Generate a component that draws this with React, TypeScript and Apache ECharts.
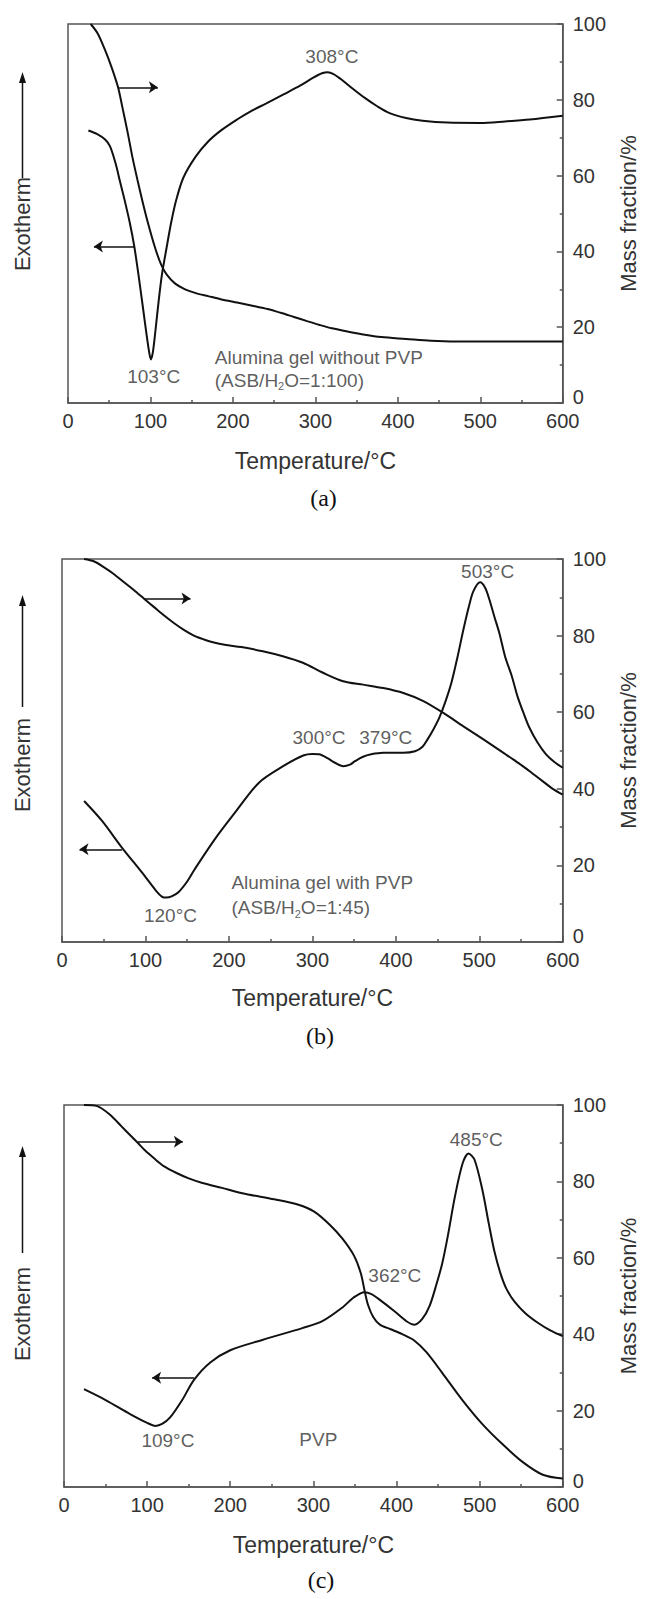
import React, { useEffect, useRef } from "react";
import * as echarts from "echarts";

const FONT = '"Liberation Sans", Arial, sans-serif';
const SERIF = '"Liberation Serif", "Times New Roman", serif';
const INK = "#111";
const AXIS = "#555";
const TEXT = "#333";

// axes
const xMin = 0, xMax = 600, xStep = 100;
const yMin = 0, yMax = 100, yStep = 20;
const xAxisTitle = "Temperature/°C";
const yAxisTitle = "Mass fraction/%";
const leftTitle = "Exotherm";
const panelTags = ["(a)", "(b)", "(c)"];

// ---------- Panel (a): alumina gel without PVP ----------
const dscA: [number, number][] = [
  [24.7, 71.9], [35, 71], [45, 69.5], [51, 67.7], [58, 63], [63, 58.5], [68.6, 53.6],
  [75, 47.5], [80.4, 41.3], [86, 33], [91, 25], [95, 18.5], [98, 14], [100.5, 11.5],
  [103, 13.5], [106, 19], [110, 27], [114, 34], [119.5, 40.9], [125, 47.5], [131.3, 53.6],
  [140, 59.5], [154.8, 65], [170, 69], [186, 72], [205, 74.8], [221, 76.9], [240, 79],
  [262, 81.5], [282, 83.8], [298, 85.9], [308, 87], [315, 87.3], [322, 86.8], [332, 85.3],
  [345, 83], [360, 80.5], [375, 78.3], [390, 76.5], [410, 75.2], [430, 74.5], [460, 74],
  [500, 73.9], [530, 74.3], [560, 74.8], [600, 75.8],
];
const tgA: [number, number][] = [
  [27.5, 100], [36, 97.5], [45, 93.1], [53, 88.5], [60.7, 83.3], [66, 78], [72.5, 71.2],
  [78, 65], [84.2, 58.9], [90, 53.5], [96, 48.3], [105.7, 40.9], [113, 36.5], [120, 33.8],
  [130, 31.5], [142, 30], [155, 29], [170, 28.2], [185, 27.4], [205, 26.5], [225, 25.6],
  [242, 24.8], [258, 23.8], [274, 22.7], [290, 21.6], [305, 20.6], [320, 19.7], [340, 18.8],
  [360, 18], [380, 17.4], [410, 16.9], [440, 16.4], [470, 16.2], [530, 16.2], [600, 16.2],
];
const notesA = [
  { t: "308°C", x: 320, y: 91.4, left: false },
  { t: "103°C", x: 104, y: 7, left: false },
  { t: "Alumina gel without PVP", x: 178, y: 11.9, left: true },
  { t: "(ASB/H{s|2}O=1:100)", x: 178, y: 6, left: true },
];
const arrowsA: [number, number][][] = [
  [[60.7, 83.3], [109, 83.3]],
  [[80.4, 41.3], [31.4, 41.3]],
];

// ---------- Panel (b): alumina gel with PVP ----------
const dscB: [number, number][] = [
  [26.5, 36.8], [48, 31.6], [72, 24.6], [96, 18.1], [113, 13.3], [120, 11.8], [125, 11.6],
  [132, 12], [139.5, 13], [150, 15.8], [159, 19], [183, 26.8], [207, 33.7], [236, 41.6],
  [265, 45.9], [289, 48.7], [300, 49.1], [308, 49], [318, 48], [327, 46.8], [337, 45.9],
  [345, 46.3], [351, 47.2], [360, 48.3], [370.5, 49], [385, 49.4], [409, 49.4], [423, 49.8],
  [432, 51], [438, 52.9], [445, 55.5], [452, 58.5], [459, 62.5], [466.6, 67.7], [474, 74.5],
  [481, 81.6], [488, 88], [493, 91.6], [501, 93.9], [507, 92.5], [512, 89.5], [518, 85],
  [524, 80.7], [531, 74.5], [539, 69.4], [546, 64], [553, 59.8], [560, 56], [570, 52],
  [580, 49], [590, 47], [600, 45.5],
];
const tgB: [number, number][] = [
  [26.5, 100], [38, 99.4], [50, 97.9], [62, 96.1], [74, 94], [86, 91.9], [98, 89.7],
  [110, 87.5], [122, 85.3], [134, 83.3], [146, 81.5], [158, 80], [170, 79], [182, 78.2],
  [195, 77.6], [215, 77], [240.6, 75.9], [264.6, 74.6], [288.7, 72.9], [312.7, 70.3],
  [336.8, 68.1], [360.9, 67.2], [385, 66.3], [409, 65], [433, 62.9], [457, 59.8], [481, 56.3],
  [505, 52.9], [529, 49.4], [541, 47.6], [553, 45.8], [565, 43.8], [577, 41.8], [588, 40],
  [600, 38.5],
];
const notesB = [
  { t: "503°C", x: 510, y: 96.8, left: false },
  { t: "300°C", x: 308, y: 53.3, left: false },
  { t: "379°C", x: 388, y: 53.3, left: false },
  { t: "120°C", x: 130, y: 6.8, left: false },
  { t: "Alumina gel with PVP", x: 203, y: 15.5, left: true },
  { t: "(ASB/H{s|2}O=1:45)", x: 203, y: 9, left: true },
];
const arrowsB: [number, number][][] = [
  [[98.6, 89.7], [154, 89.7]],
  [[72, 24.2], [21, 24.2]],
];

// ---------- Panel (c): PVP ----------
const dscC: [number, number][] = [
  [24, 25.6], [50.6, 22.7], [79.5, 19.1], [100, 16.8], [110, 16], [118, 16.5], [127.7, 18.2],
  [142, 22.7], [156.6, 28.1], [176, 32.6], [200, 35.8], [238.6, 38.5], [286.7, 41.6],
  [310.8, 43.4], [335, 47], [349, 49.7], [361.4, 51], [370, 50.5], [378, 49.3], [397.6, 46],
  [412, 43.4], [421.7, 42.5], [431, 44], [440, 47.5], [448, 53], [455, 58.5], [462, 66],
  [470, 75.7], [479.5, 84.7], [486.7, 87.3], [494, 85.6], [503.6, 77.5], [511, 69],
  [518, 61.5], [525, 56], [532, 52], [542, 48.5], [555, 45.5], [570, 43], [585, 41],
  [600, 39.5],
];
const tgC: [number, number][] = [
  [24, 100], [40, 99.7], [55, 97.5], [69.2, 94.4], [80, 92], [88.7, 90.1], [98, 88],
  [108, 86.1], [120, 84], [135.4, 82.2], [150, 80.8], [166.6, 79.6], [190, 78.3],
  [214.5, 76.9], [253, 75.3], [282, 73.9], [301, 72.1], [320, 68.6], [335, 65], [349, 60.5],
  [357, 56], [362, 51], [366, 47.5], [372, 44.5], [380, 42.5], [393, 41.3], [407, 40],
  [421.7, 38.3], [436, 35.3], [455, 29.9], [479.5, 22.7], [503.6, 16.4], [528, 11.1],
  [552, 6.5], [576, 3.2], [600, 2.2],
];
const notesC = [
  { t: "485°C", x: 496, y: 90.9, left: false },
  { t: "362°C", x: 398, y: 55.3, left: false },
  { t: "109°C", x: 125, y: 12.1, left: false },
  { t: "PVP", x: 306, y: 12.4, left: false },
];
const arrowsC: [number, number][][] = [
  [[89, 90.4], [143, 90.4]],
  [[156.6, 28.6], [106, 28.6]],
];

// layout (pixels)
const panels = [
  { grid: { left: 68, top: 24, width: 511, height: 379 }, dsc: dscA, tg: tgA, notes: notesA, arrows: arrowsA,
    exo: { x: 22.5, top: 72, shaftEnd: 178, textY: 224 }, tagY: 498, nameGap: 46 },
  { grid: { left: 62, top: 559, width: 516, height: 383 }, dsc: dscB, tg: tgB, notes: notesB, arrows: arrowsB,
    exo: { x: 22.5, top: 595, shaftEnd: 707, textY: 765 }, tagY: 1036, nameGap: 44 },
  { grid: { left: 64, top: 1105, width: 514, height: 382 }, dsc: dscC, tg: tgC, notes: notesC, arrows: arrowsC,
    exo: { x: 22.5, top: 1146, shaftEnd: 1253, textY: 1314 }, tagY: 1580, nameGap: 46 },
];

export default function App() {
  const ref = useRef<HTMLDivElement>(null);
  useEffect(() => {
    if (!ref.current) return;
    const chart = echarts.init(ref.current, undefined, { renderer: "svg" });
    const lineCol = { color: AXIS, width: 1.5 };
    const option: any = {
      animation: false,
      backgroundColor: "#fff",
      grid: panels.map((p) => ({ ...p.grid, show: true, borderColor: AXIS, borderWidth: 1.5, backgroundColor: "transparent" })),
      xAxis: panels.map((p, i) => ({
        gridIndex: i, type: "value", min: xMin, max: xMax, interval: xStep,
        axisLine: { show: true, onZero: false, lineStyle: lineCol },
        axisTick: { show: true, inside: true, length: 6, lineStyle: lineCol },
        minorTick: { show: true, splitNumber: 2, length: 3, lineStyle: lineCol },
        splitLine: { show: false },
        axisLabel: { color: TEXT, fontSize: 20, fontFamily: FONT, margin: 8 },
        name: xAxisTitle, nameLocation: "middle", nameGap: p.nameGap,
        nameTextStyle: { color: TEXT, fontSize: 23, fontFamily: FONT },
      })),
      yAxis: panels.map((p, i) => ({
        gridIndex: i, type: "value", position: "right", min: yMin, max: yMax, interval: yStep,
        axisLine: { show: true, onZero: false, lineStyle: lineCol },
        axisTick: { show: true, inside: true, length: 6, lineStyle: lineCol },
        minorTick: { show: true, splitNumber: 2, length: 3, lineStyle: lineCol },
        splitLine: { show: false },
        axisLabel: {
          color: TEXT, fontSize: 20, fontFamily: FONT, margin: 10,
          formatter: (v: number) => (v === yMin ? `{z|${v}}` : String(v)),
          rich: { z: { color: TEXT, fontSize: 20, fontFamily: FONT, padding: [0, 0, 12, 0] } },
        },
        name: yAxisTitle, nameLocation: "middle", nameGap: 49, nameRotate: 90,
        nameTextStyle: { color: TEXT, fontSize: 22, fontFamily: FONT },
      })),
      series: panels.flatMap((p, i) => [
        {
          type: "line", xAxisIndex: i, yAxisIndex: i, data: p.dsc, showSymbol: false, smooth: 0.3,
          lineStyle: { color: INK, width: 2 }, silent: true,
          markLine: {
            silent: true, symbol: ["none", "arrow"], symbolSize: 9, animation: false,
            lineStyle: { color: INK, width: 1.5, type: "solid" }, label: { show: false },
            data: p.arrows.map(([a, b]) => [{ coord: a }, { coord: b }]),
          },
        },
        {
          type: "line", xAxisIndex: i, yAxisIndex: i, data: p.tg, showSymbol: false, smooth: 0.3,
          lineStyle: { color: INK, width: 2 }, silent: true,
        },
        {
          type: "scatter", xAxisIndex: i, yAxisIndex: i, symbolSize: 1, silent: true,
          itemStyle: { color: "rgba(0,0,0,0)" },
          label: {
            show: true, position: "inside", formatter: "{b}", color: TEXT, fontSize: 19, fontFamily: FONT,
            rich: { s: { fontSize: 11, padding: [12, 0, 0, 0], color: TEXT, fontFamily: FONT } },
          },
          data: p.notes.map((n) => ({ value: [n.x, n.y], name: n.t, label: { align: n.left ? "left" : "center" } })),
        },
      ]),
      graphic: panels.flatMap((p, i) => [
        { type: "line", silent: true, shape: { x1: p.exo.x, y1: p.exo.top + 8, x2: p.exo.x, y2: p.exo.shaftEnd },
          style: { stroke: INK, lineWidth: 1.5 } },
        { type: "polygon", silent: true,
          shape: { points: [[p.exo.x - 3.5, p.exo.top + 11], [p.exo.x + 3.5, p.exo.top + 11], [p.exo.x, p.exo.top]] },
          style: { fill: INK } },
        { type: "text", silent: true, x: p.exo.x, y: p.exo.textY, rotation: Math.PI / 2,
          style: { text: leftTitle, fontSize: 22, fontFamily: FONT, fill: TEXT, align: "center", verticalAlign: "middle" } },
        { type: "text", silent: true, x: p.grid.left + p.grid.width / 2, y: p.tagY,
          style: { text: panelTags[i], fontSize: 24, fontFamily: SERIF, fill: "#111", align: "center", verticalAlign: "middle" } },
      ]),
    };
    chart.setOption(option);
    return () => chart.dispose();
  }, []);
  return <div ref={ref} style={{ position: "absolute", left: 0, top: 0, width: 647, height: 1599 }} />;
}
